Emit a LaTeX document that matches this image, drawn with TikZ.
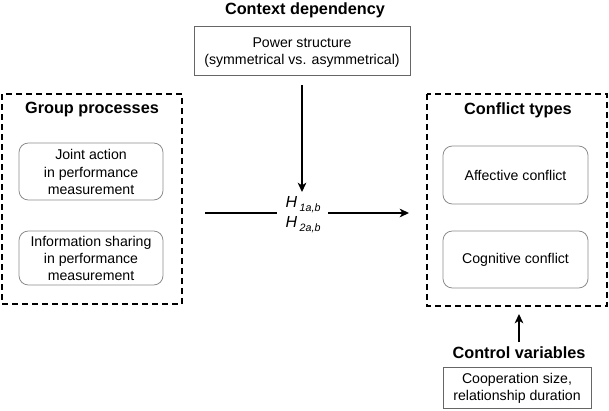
\documentclass[tikz,border=0pt]{standalone}
\usepackage{fontspec}
\setmainfont{Liberation Sans}
\usetikzlibrary{arrows.meta}
\begin{document}
\begin{tikzpicture}[x=0.75pt,y=-0.75pt,
  txt/.style={font=\fontsize{10.6}{12.8}\selectfont, align=center, inner sep=0pt},
  ttl/.style={font=\fontsize{12.2}{14}\selectfont\bfseries, inner sep=0pt},
  dashbox/.style={draw=black, line width=0.9pt, dash pattern=on 4.5pt off 3pt},
  rbox/.style={draw=black!45, line width=0.6pt, rounded corners=7pt},
  sbox/.style={draw=black!60, line width=0.6pt},
  arr/.style={line width=1.1pt, -{Stealth[length=7pt,width=6.5pt,inset=2pt]}},
  ln/.style={line width=1.1pt},
  hyp/.style={font=\fontsize{12}{14}\selectfont\itshape, inner sep=0pt}]
\useasboundingbox (0,0) rectangle (609,410);

% Context dependency
\node[ttl] (ctitle) at (305,10) {Context dependency};
\draw[sbox] (194,26) rectangle (410,75);
\node[txt] (power) at (302,53) {Power structure\\(symmetrical vs. asymmetrical)};
\coordinate (vtop) at (302,85);
\coordinate (vbot) at (302,192);
\draw[arr] (vtop) -- (vbot);

% Group processes
\draw[dashbox] (2,94) rectangle (182,304);
\node[ttl] (gtitle) at (92,110) {Group processes};
\draw[rbox] (19,143) rectangle (163,200);
\node[txt] (joint) at (91,172) {Joint action\\in performance\\measurement};
\draw[rbox] (19,231) rectangle (163,285);
\node[txt] (info) at (91,258.5) {Information sharing\\in performance\\measurement};

% Hypotheses
\node[hyp] (h1) at (303,205) {H\,\raisebox{-0.5ex}{\fontsize{8}{9}\selectfont 1a,b}};
\node[hyp] (h2) at (303,225) {H\,\raisebox{-0.5ex}{\fontsize{8}{9}\selectfont 2a,b}};
\coordinate (la) at (205,213);
\coordinate (lb) at (277,213);
\coordinate (ra) at (328,213);
\coordinate (rb) at (409,213);
\draw[ln] (la) -- (lb);
\draw[arr] (ra) -- (rb);

% Conflict types
\draw[dashbox] (427,94) rectangle (607,306);
\node[ttl] (ktitle) at (518,110) {Conflict types};
\draw[rbox] (443,146) rectangle (588,204);
\node[txt] (aff) at (515.5,175) {Affective conflict};
\draw[rbox] (443,231) rectangle (588,288);
\node[txt] (cog) at (515.5,259.5) {Cognitive conflict};

% Control variables
\coordinate (ca) at (519,342);
\coordinate (cb) at (519,314);
\draw[arr] (ca) -- (cb);
\node[ttl] (ctrl) at (519,353) {Control variables};
\draw[sbox] (443,367) rectangle (591,408);
\node[txt] (coop) at (517,388) {Cooperation size,\\relationship duration};
\end{tikzpicture}
\end{document}
